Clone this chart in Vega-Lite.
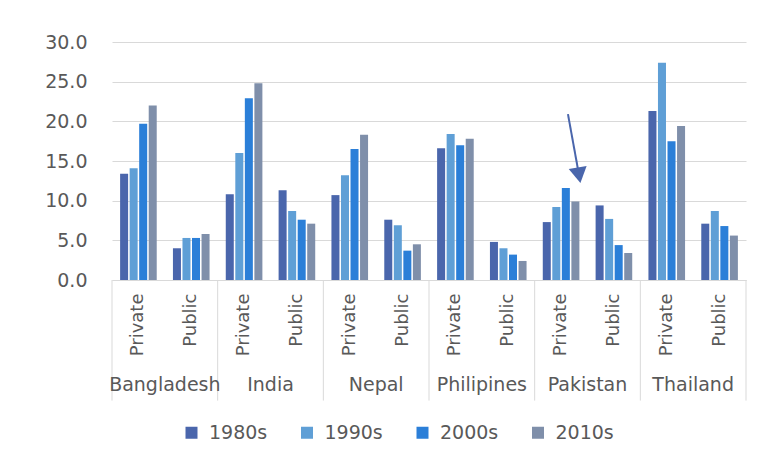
{
  "$schema": "https://vega.github.io/schema/vega-lite/v6.json",
  "width": 634,
  "height": 238,
  "autosize": {"type": "none"},
  "padding": {"left": 112, "top": 42, "right": 32, "bottom": 182},
  "background": "white",
  "config": {"view": {"stroke": null}, "font": "DejaVu Sans"},
  "datasets": {
    "bars": [
      {"group": "Bangladesh|Private", "decade": "1980s", "value": 13.4},
      {"group": "Bangladesh|Private", "decade": "1990s", "value": 14.1},
      {"group": "Bangladesh|Private", "decade": "2000s", "value": 19.7},
      {"group": "Bangladesh|Private", "decade": "2010s", "value": 22.0},
      {"group": "Bangladesh|Public", "decade": "1980s", "value": 4.0},
      {"group": "Bangladesh|Public", "decade": "1990s", "value": 5.3},
      {"group": "Bangladesh|Public", "decade": "2000s", "value": 5.3},
      {"group": "Bangladesh|Public", "decade": "2010s", "value": 5.8},
      {"group": "India|Private", "decade": "1980s", "value": 10.8},
      {"group": "India|Private", "decade": "1990s", "value": 16.0},
      {"group": "India|Private", "decade": "2000s", "value": 22.9},
      {"group": "India|Private", "decade": "2010s", "value": 24.8},
      {"group": "India|Public", "decade": "1980s", "value": 11.3},
      {"group": "India|Public", "decade": "1990s", "value": 8.7},
      {"group": "India|Public", "decade": "2000s", "value": 7.6},
      {"group": "India|Public", "decade": "2010s", "value": 7.1},
      {"group": "Nepal|Private", "decade": "1980s", "value": 10.7},
      {"group": "Nepal|Private", "decade": "1990s", "value": 13.2},
      {"group": "Nepal|Private", "decade": "2000s", "value": 16.5},
      {"group": "Nepal|Private", "decade": "2010s", "value": 18.3},
      {"group": "Nepal|Public", "decade": "1980s", "value": 7.6},
      {"group": "Nepal|Public", "decade": "1990s", "value": 6.9},
      {"group": "Nepal|Public", "decade": "2000s", "value": 3.7},
      {"group": "Nepal|Public", "decade": "2010s", "value": 4.5},
      {"group": "Philipines|Private", "decade": "1980s", "value": 16.6},
      {"group": "Philipines|Private", "decade": "1990s", "value": 18.4},
      {"group": "Philipines|Private", "decade": "2000s", "value": 17.0},
      {"group": "Philipines|Private", "decade": "2010s", "value": 17.8},
      {"group": "Philipines|Public", "decade": "1980s", "value": 4.8},
      {"group": "Philipines|Public", "decade": "1990s", "value": 4.0},
      {"group": "Philipines|Public", "decade": "2000s", "value": 3.2},
      {"group": "Philipines|Public", "decade": "2010s", "value": 2.4},
      {"group": "Pakistan|Private", "decade": "1980s", "value": 7.3},
      {"group": "Pakistan|Private", "decade": "1990s", "value": 9.2},
      {"group": "Pakistan|Private", "decade": "2000s", "value": 11.6},
      {"group": "Pakistan|Private", "decade": "2010s", "value": 9.9},
      {"group": "Pakistan|Public", "decade": "1980s", "value": 9.4},
      {"group": "Pakistan|Public", "decade": "1990s", "value": 7.7},
      {"group": "Pakistan|Public", "decade": "2000s", "value": 4.4},
      {"group": "Pakistan|Public", "decade": "2010s", "value": 3.4},
      {"group": "Thailand|Private", "decade": "1980s", "value": 21.3},
      {"group": "Thailand|Private", "decade": "1990s", "value": 27.4},
      {"group": "Thailand|Private", "decade": "2000s", "value": 17.5},
      {"group": "Thailand|Private", "decade": "2010s", "value": 19.4},
      {"group": "Thailand|Public", "decade": "1980s", "value": 7.1},
      {"group": "Thailand|Public", "decade": "1990s", "value": 8.7},
      {"group": "Thailand|Public", "decade": "2000s", "value": 6.8},
      {"group": "Thailand|Public", "decade": "2010s", "value": 5.6}
    ],
    "countries": [
      {"country": "Bangladesh", "group": "Bangladesh|Private"},
      {"country": "India", "group": "India|Private"},
      {"country": "Nepal", "group": "Nepal|Private"},
      {"country": "Philipines", "group": "Philipines|Private"},
      {"country": "Pakistan", "group": "Pakistan|Private"},
      {"country": "Thailand", "group": "Thailand|Private"}
    ],
    "lastEdge": [
      {"group": "Thailand|Public"}
    ],
    "arrow": [
      {"group": "Pakistan|Private", "from": 20.9, "to": 13.2}
    ]
  },
  "layer": [
    {
      "data": {"name": "bars"},
      "mark": {"type": "bar"},
      "encoding": {
        "x": {
          "field": "group",
          "type": "nominal",
          "scale": {
            "domain": ["Bangladesh|Private", "Bangladesh|Public", "India|Private", "India|Public", "Nepal|Private", "Nepal|Public", "Philipines|Private", "Philipines|Public", "Pakistan|Private", "Pakistan|Public", "Thailand|Private", "Thailand|Public"],
            "paddingInner": 0,
            "paddingOuter": 0
          },
          "axis": {
            "title": null,
            "labelExpr": "split(datum.value, '|')[1]",
            "labelAngle": -90,
            "labelFontSize": 18,
            "labelColor": "#595959",
            "labelPadding": 13,
            "ticks": false,
            "grid": false,
            "domainColor": "#d9d9d9",
            "domainWidth": 1
          }
        },
        "xOffset": {
          "field": "decade",
          "type": "nominal",
          "scale": {"domain": ["1980s", "1990s", "2000s", "2010s"], "paddingInner": 0.16, "paddingOuter": 0.85}
        },
        "y": {
          "field": "value",
          "type": "quantitative",
          "scale": {"domain": [0, 30], "nice": false},
          "axis": {"title": null, "values": [0, 5, 10, 15, 20, 25, 30], "format": ".1f", "domain": false, "ticks": false, "labelOverlap": false, "gridColor": "#d9d9d9", "gridWidth": 1, "labelFontSize": 19, "labelColor": "#595959", "labelPadding": 25}
        },
        "color": {
          "field": "decade",
          "type": "nominal",
          "scale": {"domain": ["1980s", "1990s", "2000s", "2010s"], "range": ["#4a66ac", "#5f9fd6", "#2b7fd8", "#7f8faa"]},
          "legend": {
            "title": null,
            "orient": "none",
            "legendX": 70,
            "legendY": 381,
            "direction": "horizontal",
            "symbolType": "square",
            "symbolSize": 144,
            "symbolStrokeWidth": 0,
            "labelFontSize": 19,
            "labelColor": "#595959",
            "labelOffset": 8,
            "columnPadding": 29.5
          }
        }
      }
    },
    {
      "data": {"name": "countries"},
      "mark": {"type": "rule", "color": "#d9d9d9", "strokeWidth": 1},
      "encoding": {
        "x": {"field": "group", "type": "nominal", "bandPosition": 0},
        "y": {"datum": 0, "type": "quantitative", "axis": {"title": null, "values": [0, 5, 10, 15, 20, 25, 30], "format": ".1f", "domain": false, "ticks": false, "labelOverlap": false, "gridColor": "#d9d9d9", "gridWidth": 1, "labelFontSize": 19, "labelColor": "#595959", "labelPadding": 25}},
        "y2": {"datum": -15.2}
      }
    },
    {
      "data": {"name": "lastEdge"},
      "mark": {"type": "rule", "color": "#d9d9d9", "strokeWidth": 1},
      "encoding": {
        "x": {"field": "group", "type": "nominal", "bandPosition": 1},
        "y": {"datum": 0, "type": "quantitative", "axis": {"title": null, "values": [0, 5, 10, 15, 20, 25, 30], "format": ".1f", "domain": false, "ticks": false, "labelOverlap": false, "gridColor": "#d9d9d9", "gridWidth": 1, "labelFontSize": 19, "labelColor": "#595959", "labelPadding": 25}},
        "y2": {"datum": -15.2}
      }
    },
    {
      "data": {"name": "countries"},
      "mark": {"type": "text", "fontSize": 19, "color": "#595959", "align": "center", "baseline": "middle"},
      "encoding": {
        "x": {"field": "group", "type": "nominal", "bandPosition": 1},
        "y": {"datum": -13.2, "type": "quantitative", "axis": {"title": null, "values": [0, 5, 10, 15, 20, 25, 30], "format": ".1f", "domain": false, "ticks": false, "labelOverlap": false, "gridColor": "#d9d9d9", "gridWidth": 1, "labelFontSize": 19, "labelColor": "#595959", "labelPadding": 25}},
        "text": {"field": "country"}
      }
    },
    {
      "data": {"name": "arrow"},
      "mark": {"type": "rule", "color": "#4a66ac", "strokeWidth": 2},
      "encoding": {
        "x": {"field": "group", "type": "nominal", "bandPosition": 0.63},
        "x2": {"field": "group", "bandPosition": 0.84},
        "y": {"field": "from", "type": "quantitative", "axis": {"title": null, "values": [0, 5, 10, 15, 20, 25, 30], "format": ".1f", "domain": false, "ticks": false, "labelOverlap": false, "gridColor": "#d9d9d9", "gridWidth": 1, "labelFontSize": 19, "labelColor": "#595959", "labelPadding": 25}},
        "y2": {"field": "to"}
      }
    },
    {
      "data": {"name": "arrow"},
      "mark": {"type": "point", "shape": "triangle-down", "filled": true, "size": 330, "angle": -10, "opacity": 1, "color": "#4a66ac"},
      "encoding": {
        "x": {"field": "group", "type": "nominal", "bandPosition": 0.84},
        "y": {"field": "to", "type": "quantitative", "axis": {"title": null, "values": [0, 5, 10, 15, 20, 25, 30], "format": ".1f", "domain": false, "ticks": false, "labelOverlap": false, "gridColor": "#d9d9d9", "gridWidth": 1, "labelFontSize": 19, "labelColor": "#595959", "labelPadding": 25}}
      }
    }
  ]
}
